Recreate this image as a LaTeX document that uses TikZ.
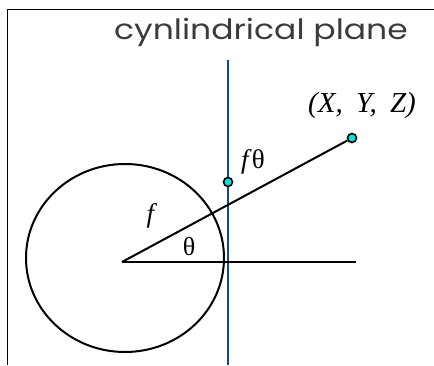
\documentclass[tikz,border=0pt]{standalone}
\usepackage{fontspec}
\setmainfont{Liberation Serif}
\newfontfamily\titlefont[FakeStretch=1.18]{Poppins}
\usepackage{xcolor}
\usepackage{tikz}
\usetikzlibrary{positioning}
\definecolor{planeblue}{RGB}{18,72,140}
\definecolor{dotcyan}{RGB}{0,225,225}
\definecolor{titlegray}{RGB}{60,60,60}

\begin{document}
\begin{tikzpicture}[x=1pt, y=1pt,
  axis/.style={line width=2pt, black},
  planeline/.style={line width=2.4pt, planeblue},
  frameline/.style={line width=1pt, black},
  dot/.style={circle, fill=dotcyan, draw=black, line width=1.6pt, inner sep=0pt, minimum size=9pt},
  lab/.style={font=\fontsize{27}{29}\selectfont, inner sep=1pt}
]
\useasboundingbox (0,0) rectangle (434,365);
\draw[frameline] (7,0) -- (7,355) -- (434,355);

\node[font=\titlefont\fontsize{28}{30}\selectfont, text=titlegray] (title) at (261,333) {cynlindrical plane};

\coordinate (O) at (122,103);
\coordinate (end) at (356,103);
\coordinate (top) at (228,305);
\coordinate (bot) at (228,0);
\draw[axis] (125,107) ellipse (99 and 94);

\draw[planeline] (top) -- (bot);
\node[dot] (proj) at (228,183) {};
\node[dot] (pt) at (352,227) {};
\draw[axis] (O) -- (end);
\draw[axis] (O) -- (pt);

\node[lab, font=\itshape\fontsize{29}{31}\selectfont] (xyz) at (362,259) {(X,\hspace{6pt} Y,\hspace{6pt} Z)};
\node[lab] (ftheta) at (253,203) {\textit{f}θ};
\node[lab] (f) at (152,149) {\textit{f}};
\node[lab, font=\fontsize{26}{28}\selectfont] (theta) at (189,118) {θ};
\end{tikzpicture}
\end{document}
